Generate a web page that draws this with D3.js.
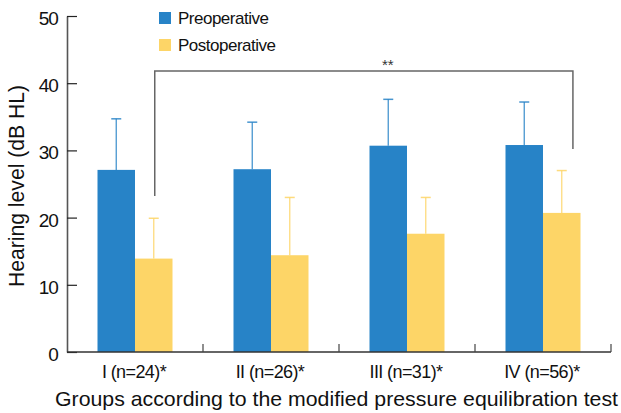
<!DOCTYPE html>
<html>
<head>
<meta charset="utf-8">
<script src="https://cdn.jsdelivr.net/npm/d3@7"></script>
<style>
  html, body { margin: 0; padding: 0; background: #fff; }
  svg { display: block; font-family: "Liberation Sans", Arial, Helvetica, sans-serif; }
</style>
</head>
<body>
<svg id="chart" width="621" height="413"></svg>
<script>
// ---- data ----
const groups = ["I (n=24)*", "II (n=26)*", "III (n=31)*", "IV (n=56)*"];
const seriesNames = ["Preoperative", "Postoperative"];
const preMean = [27.1, 27.2, 30.7, 30.8];
const preSD   = [7.6, 7.0, 6.9, 6.4];
const postMean = [13.9, 14.4, 17.6, 20.7];
const postSD   = [6.0, 8.6, 5.4, 6.3];
const yTicks = [0, 10, 20, 30, 40, 50];
const sigLabel = "**";
const sigTop = 41.8, sigLeftEnd = 23.2, sigRightEnd = 30.2;
const colors = ["#2783c7", "#fdd567"];

const rows = groups.map((g, i) => ({
  group: g,
  values: [
    { s: seriesNames[0], m: preMean[i], sd: preSD[i] },
    { s: seriesNames[1], m: postMean[i], sd: postSD[i] }
  ]
}));

const svg = d3.select("#chart");
const mLeft = 67, mRight = 611, mTop = 16, mBottom = 352;

const x = d3.scaleBand().domain(groups).range([mLeft, mRight]).padding(0);
const bw = x.bandwidth();
const barW = 37.5;
const xs = d3.scaleBand().domain(seriesNames).range([bw / 2 - barW, bw / 2 + barW]).padding(0);
const y = d3.scaleLinear().domain([0, 50]).range([mBottom, mTop]);
const color = d3.scaleOrdinal().domain(seriesNames).range(colors);

// bars
const g = svg.append("g");
const grp = g.selectAll("g.grp").data(rows).join("g")
  .attr("transform", d => `translate(${x(d.group)},0)`);
grp.selectAll("rect").data(d => d.values).join("rect")
  .attr("x", d => xs(d.s))
  .attr("width", xs.bandwidth())
  .attr("y", d => y(d.m))
  .attr("height", d => y(0) - y(d.m))
  .attr("fill", d => color(d.s));

// error bars
grp.selectAll("line.err").data(d => d.values).join("line")
  .attr("class", "err")
  .attr("x1", d => xs(d.s) + xs.bandwidth() / 2)
  .attr("x2", d => xs(d.s) + xs.bandwidth() / 2)
  .attr("y1", d => y(d.m))
  .attr("y2", d => y(d.m + d.sd))
  .attr("stroke", d => color(d.s)).attr("stroke-width", 1.3).attr("stroke-opacity", 0.85);
grp.selectAll("line.cap").data(d => d.values).join("line")
  .attr("class", "cap")
  .attr("x1", d => xs(d.s) + xs.bandwidth() / 2 - 5)
  .attr("x2", d => xs(d.s) + xs.bandwidth() / 2 + 5)
  .attr("y1", d => y(d.m + d.sd))
  .attr("y2", d => y(d.m + d.sd))
  .attr("stroke", d => color(d.s)).attr("stroke-width", 1.5).attr("stroke-opacity", 0.85);

// y axis
const yAxis = d3.axisLeft(y).tickValues(yTicks).tickSizeInner(-10).tickSizeOuter(0).tickPadding(9);
const ya = svg.append("g").attr("transform", `translate(${mLeft},0)`).call(yAxis);
ya.select(".domain").attr("stroke", "#555").attr("stroke-width", 1.6);
ya.selectAll(".tick line").attr("stroke", "#222").attr("stroke-width", 1.2);
ya.selectAll(".tick text").attr("font-size", 19).attr("fill", "#111")
  .attr("dy", "0.45em").attr("font-family", "Liberation Sans, Arial, sans-serif")
  .attr("letter-spacing", -0.9);

// x axis (custom: boundary ticks)
const xa = svg.append("g");
xa.append("line").attr("x1", mLeft).attr("x2", mRight).attr("y1", y(0)).attr("y2", y(0))
  .attr("stroke", "#333").attr("stroke-width", 1.6);
xa.selectAll("line.xt").data(groups).join("line").attr("class", "xt")
  .attr("x1", d => x(d) + bw).attr("x2", d => x(d) + bw)
  .attr("y1", y(0)).attr("y2", y(0) - 8)
  .attr("stroke", "#444").attr("stroke-width", 1.2);
xa.selectAll("text").data(groups).join("text")
  .attr("x", d => x(d) + bw / 2 - 1)
  .attr("y", 378)
  .attr("text-anchor", "middle")
  .attr("font-size", 18)
  .attr("letter-spacing", -0.6)
  .attr("fill", "#111")
  .text(d => d);

// axis titles
svg.append("text")
  .attr("transform", `translate(24,${(85 + 287) / 2}) rotate(-90)`)
  .attr("text-anchor", "middle")
  .attr("font-size", 22)
  .attr("textLength", 202).attr("lengthAdjust", "spacingAndGlyphs")
  .attr("fill", "#111")
  .text("Hearing level (dB HL)");
svg.append("text")
  .attr("x", (55 + 618) / 2)
  .attr("y", 406)
  .attr("text-anchor", "middle")
  .attr("font-size", 21)
  .attr("textLength", 563).attr("lengthAdjust", "spacingAndGlyphs")
  .attr("fill", "#111")
  .text("Groups according to the modified pressure equilibration test");

// legend
const leg = svg.append("g").selectAll("g").data(seriesNames).join("g")
  .attr("transform", (d, i) => `translate(159,${12 + i * 27})`);
leg.append("rect").attr("width", 12).attr("height", 12).attr("fill", d => color(d));
leg.append("text").attr("x", 19).attr("y", 12).attr("font-size", 17)
  .attr("letter-spacing", -0.5).attr("fill", "#111").text(d => d);

// significance bracket
const xL = x(groups[0]) + xs(seriesNames[1]) + xs.bandwidth() / 2 + 1;
const xR = x(groups[3]) + bw * 0.72;
svg.append("path")
  .attr("d", `M${xL},${y(sigLeftEnd)}V${y(sigTop)}H${xR}V${y(sigRightEnd)}`)
  .attr("fill", "none").attr("stroke", "#666").attr("stroke-width", 1.5);
svg.append("text")
  .attr("x", (xL + xR) / 2 + 24)
  .attr("y", y(sigTop) - 1)
  .attr("text-anchor", "middle")
  .attr("font-size", 15)
  .attr("fill", "#333")
  .text(sigLabel);
</script>
</body>
</html>
